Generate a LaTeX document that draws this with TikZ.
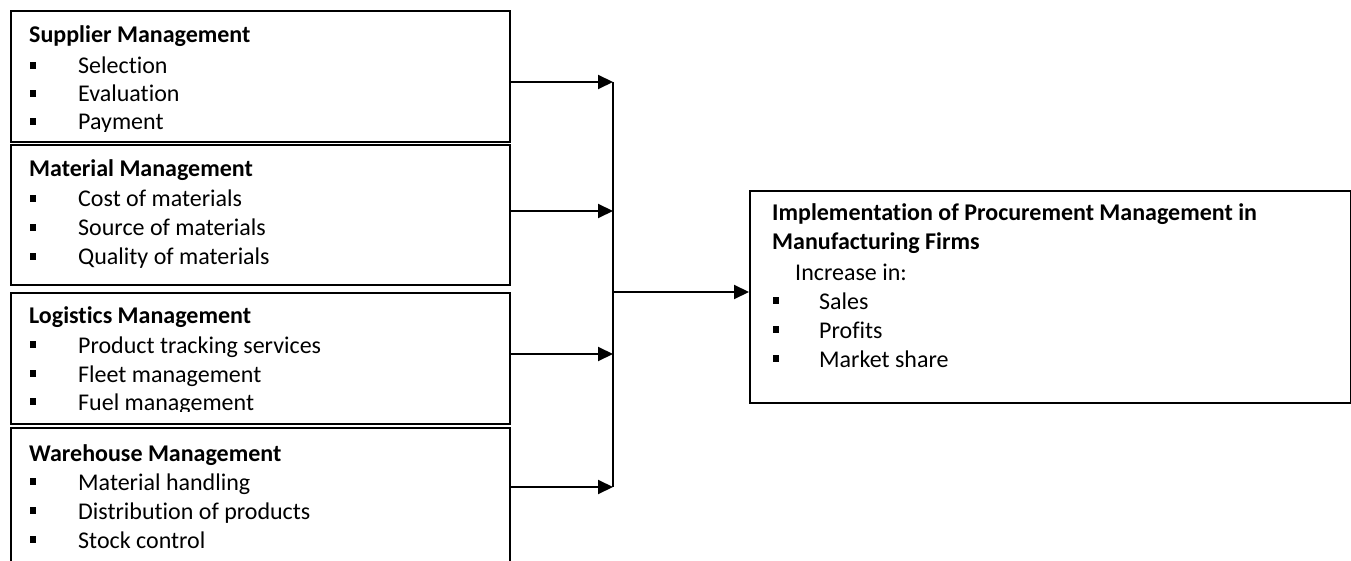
\documentclass[tikz,border=0pt]{standalone}
\usepackage{fontspec}
\setmainfont{Carlito}[Ligatures=NoCommon]
\usetikzlibrary{arrows.meta}

\newcommand{\sqbul}{\makebox[48pt][l]{\rule[5pt]{6pt}{7pt}}}

\begin{document}
\begin{tikzpicture}[x=1pt,y=-1pt,
  box/.style={draw,line width=2pt,anchor=north west,inner sep=0pt},
  txt/.style={anchor=base west,inner sep=0pt,font=\fontsize{24}{29}\selectfont},
  head/.style={anchor=base west,inner sep=0pt,font=\fontsize{24}{29}\selectfont\bfseries},
  arr/.style={line width=2pt,-{Triangle[length=15pt,width=14pt]}},
  bus/.style={line width=2pt}]
\useasboundingbox (0,0) rectangle (1351,561);

% boxes on the left
\node [box,minimum width=499pt,minimum height=131pt] (sup) at (10,10) {};
\node [box,minimum width=499pt,minimum height=140pt] (mat) at (10,144) {};
\node [box,minimum width=499pt,minimum height=131pt] (log) at (10,292) {};
\node [box,minimum width=499pt,minimum height=200pt] (war) at (10,427) {};

% box on the right
\node [box,minimum width=601pt,minimum height=212pt] (impl) at (749,190) {};

% texts
\begin{scope}
\clip (10,10) rectangle (509,131.5);
\node [head] (supH) at (29,43) {Supplier Management};
\node [txt] (sup1) at (30,74) {\sqbul Selection};
\node [txt] (sup2) at (30,102) {\sqbul Evaluation};
\node [txt] (sup3) at (30,130) {\sqbul Payment};
\end{scope}

\node [head] (matH) at (29,177) {Material Management};
\node [txt] (mat1) at (30,207) {\sqbul Cost of materials};
\node [txt] (mat2) at (30,236) {\sqbul Source of materials};
\node [txt] (mat3) at (30,265) {\sqbul Quality of materials};

\begin{scope}
\clip (10,292) rectangle (509,411.5);
\node [head] (logH) at (29,323) {Logistics Management};
\node [txt] (log1) at (30,353) {\sqbul Product tracking services};
\node [txt] (log2) at (30,382) {\sqbul Fleet management};
\node [txt] (log3) at (30,410) {\sqbul Fuel management};
\end{scope}

\node [head] (warH) at (29,461) {Warehouse Management};
\node [txt] (war1) at (30,490) {\sqbul Material handling};
\node [txt] (war2) at (30,519) {\sqbul Distribution of products};
\node [txt] (war3) at (30,548) {\sqbul Stock control};

\node [head] (implH1) at (772,221) {Implementation of Procurement Management in};
\node [head] (implH2) at (772,250) {Manufacturing Firms};
\node [txt] (inc) at (795,280) {Increase in:};
\node [txt] (impl1) at (773,309) {\makebox[46pt][l]{\rule[5pt]{6pt}{7pt}}Sales};
\node [txt] (impl2) at (773,338) {\makebox[46pt][l]{\rule[5pt]{6pt}{7pt}}Profits};
\node [txt] (impl3) at (773,367) {\makebox[46pt][l]{\rule[5pt]{6pt}{7pt}}Market share};

% connectors
\coordinate (j1) at (613,82);
\coordinate (j2) at (613,211);
\coordinate (j3) at (613,354);
\coordinate (j4) at (613,487);
\coordinate (jm) at (613,292);
\draw [bus] (j1) -- (j4);
\draw [arr] (sup.east |- j1) -- (j1);
\draw [arr] (mat.east |- j2) -- (j2);
\draw [arr] (log.east |- j3) -- (j3);
\draw [arr] (war.east |- j4) -- (j4);
\draw [arr] (jm) -- (impl.west |- jm);

\end{tikzpicture}
\end{document}
